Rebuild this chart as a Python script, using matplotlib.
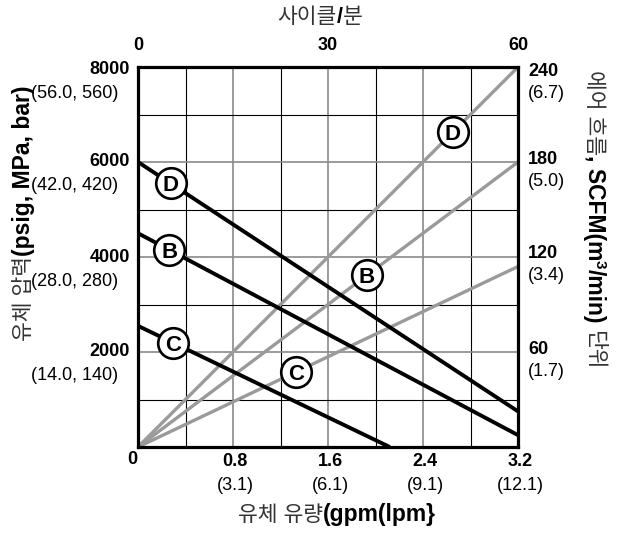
import math
import matplotlib
matplotlib.use('Agg')
import matplotlib.pyplot as plt
import numpy as np
from matplotlib.transforms import blended_transform_factory as btf, offset_copy

plt.rcParams['font.family'] = ['Liberation Sans', 'Noto Sans CJK KR', 'DejaVu Sans']

# ---------------- data ----------------
models = ['D', 'B', 'C']
# fluid pressure lines (black): start at 0 gpm, end point
pressure_start = [6000, 4500, 2550]
pressure_end_flow = [3.2, 3.2, 2.12]
pressure_end = [750, 250, 0]
pressure_label_flow = [0.275, 0.264, 0.292]
# air consumption lines (gray): start at 0, end at 3.2 gpm
air_end_flow = [3.2, 3.2, 3.2]
air_end = [240, 180, 114]
air_label_flow = [2.65, 1.926, 1.33]

flow_ticks = [0, 0.8, 1.6, 2.4, 3.2]
flow_tick_labels = ['0', '0.8', '1.6', '2.4', '3.2']
flow_lpm_labels = ['', '(3.1)', '(6.1)', '(9.1)', '(12.1)']
pressure_ticks = [2000, 4000, 6000, 8000]
pressure_alt = ['(14.0, 140)', '(28.0, 280)', '(42.0, 420)', '(56.0, 560)']
air_ticks = [60, 120, 180, 240]
air_alt = ['(1.7)', '(3.4)', '(5.0)', '(6.7)']
cycle_ticks = [0, 30, 60]

# ---------------- figure ----------------
W, H = 621, 533
fig = plt.figure(figsize=(W / 100, H / 100), dpi=100)
fig.patch.set_facecolor('white')

ax = fig.add_axes([138 / W, (H - 447) / H, 380 / W, 380 / H])
ax.set_xlim(0, 3.2)
ax.set_ylim(0, 8000)
axr = ax.twinx()
axr.set_ylim(0, 240)
axr.xaxis.set_visible(True)
axt = ax.twiny()
axt.set_xlim(0, 60)

axr.set_zorder(1)
ax.set_zorder(2)
axt.set_zorder(3)
axr.patch.set_visible(True)
axr.patch.set_facecolor('white')
ax.patch.set_visible(False)
axt.patch.set_visible(False)

GRID_GRAY = '#8a8a8a'
LINE_GRAY = '#9a9a9a'

# grid (on the background axes)
ax.set_xticks([0.8, 1.6, 2.4])
ax.set_xticks([0.4, 1.2, 2.0, 2.8], minor=True)
axr.set_yticks([60, 120, 180])
axr.set_yticks([30, 90, 150, 210], minor=True)
axr.grid(which='major', color=GRID_GRAY, lw=1.2)
axr.grid(which='minor', color='black', lw=0.8)
axr.tick_params(which='both', length=0, labelright=False, labelleft=False,
                labelbottom=False, labeltop=False)
for s in axr.spines.values():
    s.set_visible(False)

ax.set_yticks([2000, 4000, 6000])
ax.tick_params(axis='y', which='major', direction='out', length=7.5, width=1.1,
               color=GRID_GRAY, labelleft=False)
ax.tick_params(axis='x', which='both', length=0, labelbottom=False)
ax.tick_params(axis='y', which='minor', length=0)
for s in ax.spines.values():
    s.set_linewidth(2.3)
    s.set_color('black')

axt.set_xticks([])
axt.set_yticks([])
for s in axt.spines.values():
    s.set_visible(False)

# ---------------- lines ----------------
for m, p0, fe, pe, lf in zip(models, pressure_start, pressure_end_flow,
                             pressure_end, pressure_label_flow):
    xs = [0, fe]
    ys = [p0, pe]
    ax.plot(xs, ys, color='black', lw=2.8, solid_capstyle='butt', zorder=2)
    ly = np.interp(lf, xs, ys)
    ax.plot([lf], [ly], marker='o', ms=22, mfc='white', mec='black',
            mew=1.9, zorder=3)
    ax.text(lf, ly, m, ha='center', va='center_baseline', fontsize=16,
            fontweight='bold', zorder=4)

for m, fe, ae, lf in zip(models, air_end_flow, air_end, air_label_flow):
    xs = [0, fe]
    ys = [0, ae]
    axr.plot(xs, ys, color=LINE_GRAY, lw=2.4, solid_capstyle='butt', zorder=2)
    ly = np.interp(lf, xs, ys)
    axr.plot([lf], [ly], marker='o', ms=22, mfc='white', mec='black',
             mew=1.9, zorder=3)
    axr.text(lf, ly, m, ha='center', va='center_baseline', fontsize=16,
             fontweight='bold', zorder=4)


# ---------------- tick labels ----------------
def off(base, dx, dy):
    return offset_copy(base, fig=fig, x=dx, y=-dy, units='dots')


TK = 13
# bottom
bbase = btf(ax.transData, ax.transAxes)
for v, lab, alt in zip(flow_ticks, flow_tick_labels, flow_lpm_labels):
    if v == 0:
        ax.text(v, 0, lab, transform=off(bbase, -1, 13), ha='right', va='center',
                fontsize=TK, fontweight='bold', clip_on=False)
    else:
        ax.text(v, 0, lab, transform=off(bbase, 2, 14), ha='center', va='center',
                fontsize=TK, fontweight='bold', clip_on=False)
        ax.text(v, 0, alt, transform=off(bbase, 2, 39), ha='center', va='center',
                fontsize=TK, clip_on=False)

# left
lbase = btf(ax.transAxes, ax.transData)
for v, alt in zip(pressure_ticks, pressure_alt):
    dy = 3 if v == max(pressure_ticks) else 0
    ax.text(0, v, f'{v}', transform=off(lbase, -8, dy), ha='right', va='center',
            fontsize=TK, fontweight='bold', clip_on=False)
    ax.text(0, v, alt, transform=off(lbase, -20, dy + 24), ha='right', va='center',
            fontsize=TK, clip_on=False)

# right
rbase = btf(axr.transAxes, axr.transData)
for v, alt in zip(air_ticks, air_alt):
    dy = 4 if v == max(air_ticks) else -3
    axr.text(1, v, f'{v}', transform=off(rbase, 10, dy), ha='left', va='center',
             fontsize=TK, fontweight='bold', clip_on=False)
    axr.text(1, v, alt, transform=off(rbase, 10, dy + 22), ha='left', va='center',
             fontsize=TK, clip_on=False)

# top
tbase = btf(axt.transData, axt.transAxes)
for v in cycle_ticks:
    axt.text(v, 1, f'{v}', transform=off(tbase, 0, -22), ha='center', va='center',
             fontsize=TK, fontweight='bold', clip_on=False)


# ---------------- axis titles (mixed weight) ----------------
def mixed(pieces, cx, cy, rotation=0):
    """pieces: list of (text, kwargs, rise_px) or (None, gap_px, 0).
    cx, cy: centre of baseline in pixels (y from top)."""
    r = fig.canvas.get_renderer()
    lens = []
    for s, kw, rise in pieces:
        if s is None:
            lens.append(kw)
            continue
        t = fig.text(0, 0, s, **kw)
        lens.append(t.get_window_extent(r).width)
        t.remove()
    total = sum(lens)
    th = math.radians(rotation)
    d = (math.cos(th), math.sin(th))
    u = (-math.sin(th), math.cos(th))
    X0 = cx - d[0] * total / 2
    Y0 = (H - cy) - d[1] * total / 2
    acc = 0
    for (s, kw, rise), L in zip(pieces, lens):
        if s is not None:
            x = X0 + d[0] * acc + u[0] * rise
            y = Y0 + d[1] * acc + u[1] * rise
            fig.text(x / W, y / H, s, rotation=rotation, rotation_mode='anchor',
                     ha='left', va='baseline', **kw)
        acc += L


K = dict(fontsize=15.5, color='#333333')
B = dict(fontsize=16.5, fontweight='bold')
BS = dict(fontsize=11, fontweight='bold')

mixed([('사이클', K, 0),
       ('/', dict(fontsize=15.5, fontweight='bold'), 0),
       ('분', K, 0)], 320, 23, 0)

mixed([('유체 유량', K, 0), ('(gpm(lpm}', B, 0)], 337, 521, 0)

mixed([('유체 압력', K, 0), ('(psig, MPa, bar)', B, 0)], 30, 213, 90)

mixed([('에어 흐름', K, 0), (', SCFM(m', B, 0), ('3', BS, 8),
       ('/min)', B, 0), (None, 7, 0), ('단위', K, 0)], 588, 220, -90)

fig.savefig('out.png', dpi=100, facecolor='white')
